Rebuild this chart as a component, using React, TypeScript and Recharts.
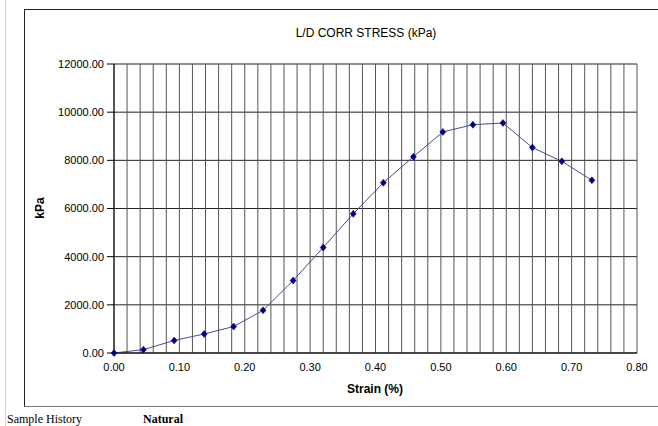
import React from 'react';
import { LineChart, Line, XAxis, YAxis, CartesianGrid } from 'recharts';

const strain = [0, 0.045, 0.092, 0.138, 0.183, 0.228, 0.274, 0.32, 0.366, 0.412, 0.458, 0.503, 0.549, 0.595, 0.64, 0.685, 0.731];
const stress = [0, 140, 520, 790, 1100, 1770, 3010, 4380, 5780, 7070, 8150, 9180, 9480, 9550, 8530, 7960, 7170];

const yTicks = [0, 2000, 4000, 6000, 8000, 10000, 12000];
const xLabelTicks = [0, 0.1, 0.2, 0.3, 0.4, 0.5, 0.6, 0.7, 0.8];
const xGridTicks = [
  0, 0.02, 0.04, 0.06, 0.08, 0.1, 0.12, 0.14, 0.16, 0.18, 0.2, 0.22, 0.24, 0.26, 0.28, 0.3,
  0.32, 0.34, 0.36, 0.38, 0.4, 0.42, 0.44, 0.46, 0.48, 0.5, 0.52, 0.54, 0.56, 0.58, 0.6,
  0.62, 0.64, 0.66, 0.68, 0.7, 0.72, 0.74, 0.76, 0.78, 0.8,
];

const data = strain.map((x, i) => ({ x, y: stress[i] }));

const FONT = "'Liberation Sans', Arial, sans-serif";
const SERIF = "'Liberation Serif', 'Times New Roman', serif";

const Diamond = (props: any) => {
  const { cx, cy, index } = props;
  if (cx == null || cy == null) return <g key={index} />;
  return (
    <polygon
      key={index}
      points={`${cx},${cy - 3.5} ${cx + 3},${cy} ${cx},${cy + 3.5} ${cx - 3},${cy}`}
      fill="#000080"
      stroke="#000080"
      strokeWidth={0.5}
    />
  );
};

export default function App() {
  return (
    <div
      style={{
        position: 'absolute',
        left: 0,
        top: 0,
        width: 658,
        height: 426,
        overflow: 'hidden',
        background: '#fff',
        fontFamily: FONT,
      }}
    >
      <div style={{ position: 'absolute', left: 5, top: 0, width: 0, height: 426, borderLeft: '1px solid #d4d4d4' }} />
      <div
        style={{
          position: 'absolute',
          left: 24,
          top: 9,
          width: 700,
          height: 396,
          borderLeft: '1px solid #222',
          borderTop: '1px solid #222',
          borderBottom: '1px solid #777',
        }}
      />
      <div style={{ position: 'absolute', left: 0, top: 0 }}>
        <LineChart width={658} height={426} data={data} margin={{ top: 64, right: 21, left: 54, bottom: 33 }}>
          <CartesianGrid vertical={false} stroke="#222" strokeOpacity={1} />
          <CartesianGrid horizontal={false} stroke="#555" strokeOpacity={1} />
          <XAxis
            dataKey="x"
            type="number"
            domain={[0, 0.8]}
            ticks={xGridTicks}
            interval={0}
            tickFormatter={(v: number) =>
              xLabelTicks.some((t) => Math.abs(t - v) < 1e-9) ? v.toFixed(2) : ''
            }
            tickLine={false}
            tickSize={6}
            tickMargin={4}
            axisLine={{ stroke: '#000' }}
            tick={{ fill: '#000', fontSize: 11, fontFamily: FONT }}
            height={40}
          />
          <YAxis
            type="number"
            domain={[0, 12000]}
            ticks={yTicks}
            interval={0}
            tickFormatter={(v: number) => v.toFixed(2)}
            tickSize={7}
            tickMargin={3}
            tickLine={{ stroke: '#000' }}
            axisLine={{ stroke: '#000' }}
            tick={{ fill: '#000', fontSize: 11, fontFamily: FONT }}
            width={60}
          />
          <Line
            type="linear"
            dataKey="y"
            stroke="#4a4a90"
            strokeWidth={1}
            dot={Diamond}
            activeDot={false}
            isAnimationActive={false}
          />
        </LineChart>
      </div>
      <div
        style={{
          position: 'absolute',
          left: 246,
          top: 25,
          width: 240,
          textAlign: 'center',
          fontSize: 12,
          lineHeight: '16px',
          color: '#000',
        }}
      >
        L/D CORR STRESS (kPa)
      </div>
      <div
        style={{
          position: 'absolute',
          left: 10,
          top: 200,
          width: 60,
          textAlign: 'center',
          fontSize: 12,
          fontWeight: 'bold',
          lineHeight: '16px',
          transform: 'rotate(-90deg)',
          color: '#000',
        }}
      >
        kPa
      </div>
      <div
        style={{
          position: 'absolute',
          left: 315,
          top: 381,
          width: 120,
          textAlign: 'center',
          fontSize: 12,
          fontWeight: 'bold',
          lineHeight: '16px',
          color: '#000',
        }}
      >
        Strain (%)
      </div>
      <div style={{ position: 'absolute', left: 7, top: 411, fontFamily: SERIF, fontSize: 12, lineHeight: '16px', color: '#000' }}>
        Sample History
      </div>
      <div
        style={{
          position: 'absolute',
          left: 143,
          top: 411,
          fontFamily: SERIF,
          fontSize: 12,
          fontWeight: 'bold',
          lineHeight: '16px',
          color: '#000',
        }}
      >
        Natural
      </div>
    </div>
  );
}
